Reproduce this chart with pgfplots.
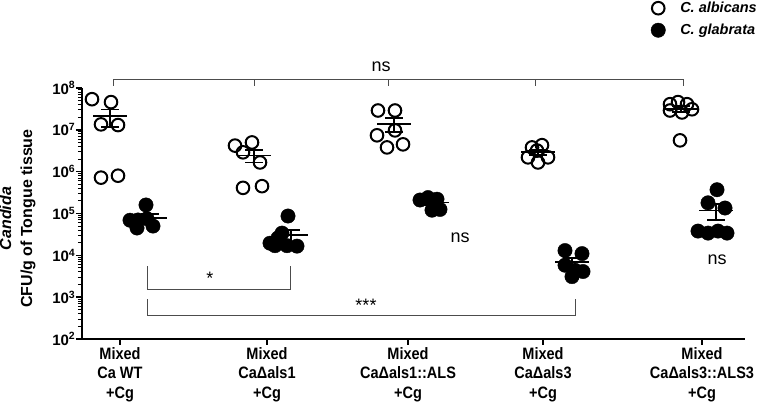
\documentclass[border=0pt]{standalone}
\usepackage{pgfplots}
\pgfplotsset{compat=1.18}
\usepackage{fontspec}
\setmainfont{Liberation Sans}
\newfontfamily\condfont[FakeStretch=0.88]{Liberation Sans}
\begin{document}
\begin{tikzpicture}
\begin{axis}[
    name=ax,
    scale only axis, width=663pt, height=251pt,
    xmin=82, xmax=745,
    ymode=log, ymin=1e2, ymax=1e8,
    axis x line*=bottom, axis y line*=left,
    axis line style={line width=1.8pt},
    clip=false,
    unbounded coords=jump,
    xtick={120,267,408,543,702},
    xticklabels={{Mixed\\Ca WT\\+Cg},{Mixed\\CaΔals1\\+Cg},{Mixed\\CaΔals1::ALS\\+Cg},{Mixed\\CaΔals3\\+Cg},{Mixed\\CaΔals3::ALS3\\+Cg}},
    xticklabel style={align=center, font=\condfont\fontsize{16.5}{19.5}\selectfont\bfseries, inner ysep=2pt},
    ytick={1e2,1e3,1e4,1e5,1e6,1e7,1e8},
    yticklabels={10\textsuperscript{2},10\textsuperscript{3},10\textsuperscript{4},10\textsuperscript{5},10\textsuperscript{6},10\textsuperscript{7},10\textsuperscript{8}},
    yticklabel style={font=\fontsize{15}{18}\selectfont\bfseries, inner xsep=0.5pt},
    tick align=outside,
    major tick length=6pt, minor tick length=4pt,
    every tick/.style={black, line width=1.5pt},
    every minor tick/.style={black, line width=1pt},
    ylabel={\textit{Candida}\\CFU/g of Tongue tissue},
    ylabel style={align=center, font=\fontsize{16}{21}\selectfont\bfseries,
        at={(axis description cs:-0.0973,0.48)}, anchor=center},
    legend style={draw=none, fill=none, at={(axis description cs:1,1)}, anchor=north east,
        xshift=17pt, yshift=90pt, font=\fontsize{14.5}{17}\selectfont\bfseries\itshape,
        row sep=6pt},
    legend cell align=left,
    legend image code/.code={\path[draw=none, fill=none] (-7pt,0pt) rectangle (20pt,1pt); \draw[#1] plot coordinates {(0pt,0pt)};},
]
% C. albicans
\addplot[only marks, black, mark=o, mark size=6.3pt, mark options={line width=2pt}] coordinates {
    (92,5.4e7) (111,4.6e7) (101,1.35e7) (118,1.3e7) (101,7.2e5) (118,8e5)
    (235,4.2e6) (252,5e6) (243,2.9e6) (260,1.66e6) (243,4.1e5) (262,4.5e5)
    (378,2.9e7) (395,2.9e7) (377,7.4e6) (395,9.7e6) (387,3.8e6) (403,4.5e6)
    (532,3.8e6) (542,4.3e6) (537,3.2e6) (528,2.2e6) (538,1.66e6) (548,2.2e6)
    (670,4.1e7) (678,4.6e7) (687,4.1e7) (692,3.1e7) (670,2.9e7) (682,2.6e7) (680,5.6e6)
};
\addlegendentry{C. albicans}
% C. glabrata
\addplot[only marks, black, mark=*, mark size=7.2pt] coordinates {
    (146,1.6e5) (130,6.9e4) (138,7e4) (137,4.5e4) (153,5e4) (147,7.5e4)
    (288,8.7e4) (270,1.95e4) (278,2.6e4) (287,1.7e4) (297,1.66e4) (282,3.4e4) (275,1.7e4)
    (420,2.1e5) (428,2.4e5) (437,2.2e5) (432,1.2e5) (440,1.25e5)
    (565,1.3e4) (582,1.1e4) (565,5.8e3) (575,4.4e3) (583,4.1e3) (572,3.1e3)
    (717,3.7e5) (708,1.8e5) (725,1.35e5) (698,3.8e4) (708,3.4e4) (718,3.8e4) (727,3.4e4)
};
\addlegendentry{C. glabrata}
% mean and SEM
\addplot[black, line width=1.8pt, forget plot] coordinates {
    (93,2.13e7) (127,2.13e7) (110,nan) (110,1.19e7) (110,3.07e7) (110,nan) (101,1.19e7) (119,1.19e7) (110,nan) (101,3.07e7) (119,3.07e7) (110,nan)
    (133,7.82e4) (167,7.82e4) (150,nan) (150,6.11e4) (150,9.53e4) (150,nan) (141,6.11e4) (159,6.11e4) (150,nan) (141,9.53e4) (159,9.53e4) (150,nan)
    (237,2.44e6) (271,2.44e6) (254,nan) (254,1.65e6) (254,3.23e6) (254,nan) (245,1.65e6) (263,1.65e6) (254,nan) (245,3.23e6) (263,3.23e6) (254,nan)
    (274,3.10e4) (308,3.10e4) (291,nan) (291,2.14e4) (291,4.06e4) (291,nan) (282,2.14e4) (300,2.14e4) (291,nan) (282,4.06e4) (300,4.06e4) (291,nan)
    (377,1.39e7) (411,1.39e7) (394,nan) (394,9.05e6) (394,1.88e7) (394,nan) (385,9.05e6) (403,9.05e6) (394,nan) (385,1.88e7) (403,1.88e7) (394,nan)
    (415,1.83e5) (449,1.83e5) (432,nan) (432,1.58e5) (432,2.08e5) (432,nan) (423,1.58e5) (441,1.58e5) (432,nan) (423,2.08e5) (441,2.08e5) (432,nan)
    (521,2.89e6) (555,2.89e6) (538,nan) (538,2.47e6) (538,3.31e6) (538,nan) (529,2.47e6) (547,2.47e6) (538,nan) (529,3.31e6) (547,3.31e6) (538,nan)
    (555,6.90e3) (589,6.90e3) (572,nan) (572,5.23e3) (572,8.57e3) (572,nan) (563,5.23e3) (581,5.23e3) (572,nan) (563,8.57e3) (581,8.57e3) (572,nan)
    (664,3.14e7) (698,3.14e7) (681,nan) (681,2.63e7) (681,3.65e7) (681,nan) (672,2.63e7) (690,2.63e7) (681,nan) (672,3.65e7) (690,3.65e7) (681,nan)
    (699,1.18e5) (733,1.18e5) (716,nan) (716,7.10e4) (716,1.66e5) (716,nan) (707,7.10e4) (725,7.10e4) (716,nan) (707,1.66e5) (725,1.66e5)
};
% significance annotations
\draw[black!70, line width=0.9pt] (axis cs:113,1.12e8) -- (axis cs:113,1.64e8) -- (axis cs:683,1.64e8) -- (axis cs:683,1.12e8);
\draw[black!70, line width=0.9pt] (axis cs:254,1.64e8) -- (axis cs:254,1.12e8);
\draw[black!70, line width=0.9pt] (axis cs:388,1.64e8) -- (axis cs:388,1.12e8);
\draw[black!70, line width=0.9pt] (axis cs:535,1.64e8) -- (axis cs:535,1.12e8);
\node[font=\fontsize{18}{20}\selectfont] at (axis cs:381,3.16e8) {ns};
\draw[black!70, line width=0.9pt] (axis cs:147,5.5e3) -- (axis cs:147,1.55e3) -- (axis cs:290,1.55e3) -- (axis cs:290,5.5e3);
\node[font=\fontsize{18}{20}\selectfont] at (axis cs:210,2.8e3) {*};
\draw[black!70, line width=0.9pt] (axis cs:147,8.9e2) -- (axis cs:147,3.7e2) -- (axis cs:575,3.7e2) -- (axis cs:575,8.9e2);
\node[font=\fontsize{18}{20}\selectfont] at (axis cs:366,6.5e2) {***};
\node[font=\fontsize{18}{20}\selectfont] at (axis cs:460,2.7e4) {ns};
\node[font=\fontsize{18}{20}\selectfont] at (axis cs:717,8.0e3) {ns};
\end{axis}
\pgfresetboundingbox
\path ([shift={(-82pt,-65pt)}]ax.south west) rectangle ([shift={(14pt,88pt)}]ax.north east);
\end{tikzpicture}
\end{document}
